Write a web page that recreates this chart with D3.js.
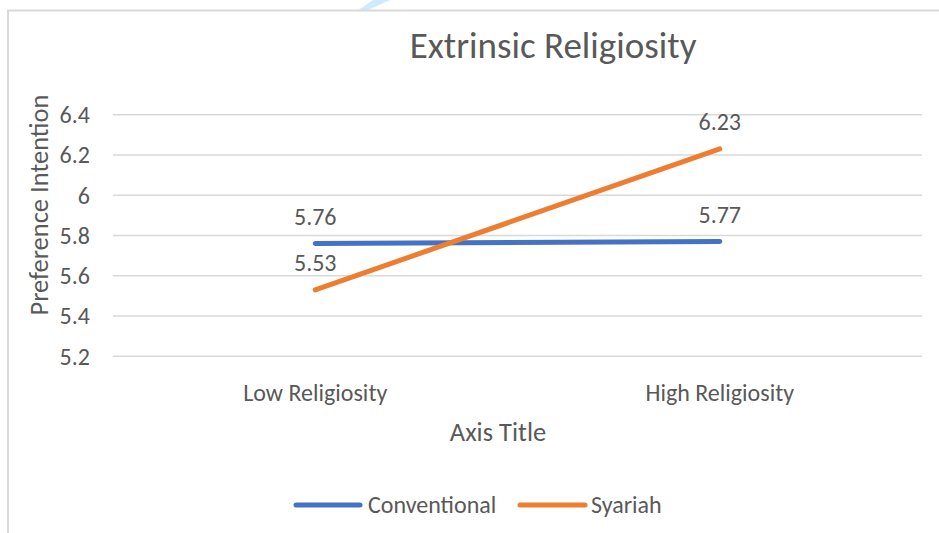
<!DOCTYPE html>
<html>
<head>
<meta charset="utf-8">
<script src="https://cdn.jsdelivr.net/npm/d3@7"></script>
<style>
  html, body { margin: 0; padding: 0; background: #fff; }
  svg { display: block; }
  text { font-family: Carlito, "Open Sans", sans-serif; fill: #595959; }
</style>
</head>
<body>
<svg id="chart" width="939" height="533"></svg>
<script>
// Chart data
const categories = ["Low Religiosity", "High Religiosity"];
const conventional = [5.76, 5.77];
const syariah = [5.53, 6.23];
const yTicks = [5.2, 5.4, 5.6, 5.8, 6, 6.2, 6.4];
const seriesNames = ["Conventional", "Syariah"];
const seriesColors = ["#4472C4", "#ED7D31"];

const series = [
  { name: seriesNames[0], values: conventional, color: seriesColors[0] },
  { name: seriesNames[1], values: syariah, color: seriesColors[1] }
];

const FONT = "Carlito, 'Open Sans', sans-serif";
const svg = d3.select("#chart");
const W = 939, H = 533;

// Plot area
const plot = { left: 113, right: 922, top: 114.7, bottom: 356.3 };

// Faint highlight stroke above the frame
svg.append("polygon")
  .attr("points", "357,11 366,11 390,0 373,0")
  .attr("fill", "#CFEBFA");

// Chart frame
svg.append("rect")
  .attr("x", 8).attr("y", 10.5)
  .attr("width", W + 20).attr("height", H + 20)
  .attr("fill", "none")
  .attr("stroke", "#D9D9D9")
  .attr("stroke-width", 2);

const x = d3.scaleBand()
  .domain(categories)
  .range([plot.left, plot.right]);

const y = d3.scaleLinear()
  .domain([5.2, 6.4])
  .range([plot.bottom, plot.top]);

// Horizontal gridlines
svg.append("g")
  .selectAll("line")
  .data(yTicks)
  .join("line")
  .attr("x1", plot.left).attr("x2", plot.right)
  .attr("y1", d => y(d)).attr("y2", d => y(d))
  .attr("stroke", "#D9D9D9")
  .attr("stroke-width", 1.5);

// Y axis
const yAxis = svg.append("g")
  .attr("transform", `translate(${plot.left - 23},0)`)
  .call(d3.axisLeft(y).tickValues(yTicks).tickSize(0).tickPadding(0).tickFormat(d3.format("")));
yAxis.select(".domain").remove();
yAxis.selectAll("text")
  .attr("font-size", 24)
  .attr("dy", "0.33em")
  .style("font-family", FONT)
  .attr("fill", "#595959");

// X axis labels
const xAxis = svg.append("g")
  .attr("transform", `translate(0,${plot.bottom})`)
  .call(d3.axisBottom(x).tickSize(0).tickPadding(0));
xAxis.select(".domain").remove();
xAxis.selectAll("text")
  .attr("y", 45)
  .attr("dy", 0)
  .attr("font-size", 24)
  .style("font-family", FONT)
  .attr("fill", "#595959");

// Title
svg.append("text")
  .attr("x", 553).attr("y", 58)
  .attr("text-anchor", "middle")
  .attr("font-size", 37)
  .text("Extrinsic Religiosity");

// Axis titles
svg.append("text")
  .attr("x", 498).attr("y", 441)
  .attr("text-anchor", "middle")
  .attr("font-size", 26.5)
  .text("Axis Title");

svg.append("text")
  .attr("transform", "translate(48,205) rotate(-90)")
  .attr("text-anchor", "middle")
  .attr("font-size", 26.5)
  .text("Preference Intention");

// Lines
const line = d3.line()
  .x((d, i) => x(categories[i]) + x.bandwidth() / 2)
  .y(d => y(d));

svg.append("g")
  .selectAll("path")
  .data(series)
  .join("path")
  .attr("d", d => line(d.values))
  .attr("fill", "none")
  .attr("stroke", d => d.color)
  .attr("stroke-width", 5)
  .attr("stroke-linecap", "round");

// Data labels above points
series.forEach(s => {
  svg.append("g")
    .selectAll("text")
    .data(s.values)
    .join("text")
    .attr("x", (d, i) => x(categories[i]) + x.bandwidth() / 2)
    .attr("y", d => y(d) - 19)
    .attr("text-anchor", "middle")
    .attr("font-size", 24)
    .text(d => d3.format(".2f")(d));
});

// Legend
const legend = svg.append("g");
const legendItems = [
  { x1: 296, x2: 360, tx: 368 },
  { x1: 520, x2: 585, tx: 591 }
];
series.forEach((s, i) => {
  const p = legendItems[i];
  legend.append("line")
    .attr("x1", p.x1).attr("x2", p.x2)
    .attr("y1", 505).attr("y2", 505)
    .attr("stroke", s.color)
    .attr("stroke-width", 5)
    .attr("stroke-linecap", "round");
  legend.append("text")
    .attr("x", p.tx).attr("y", 513)
    .attr("font-size", 24)
    .text(s.name);
});
</script>
</body>
</html>
